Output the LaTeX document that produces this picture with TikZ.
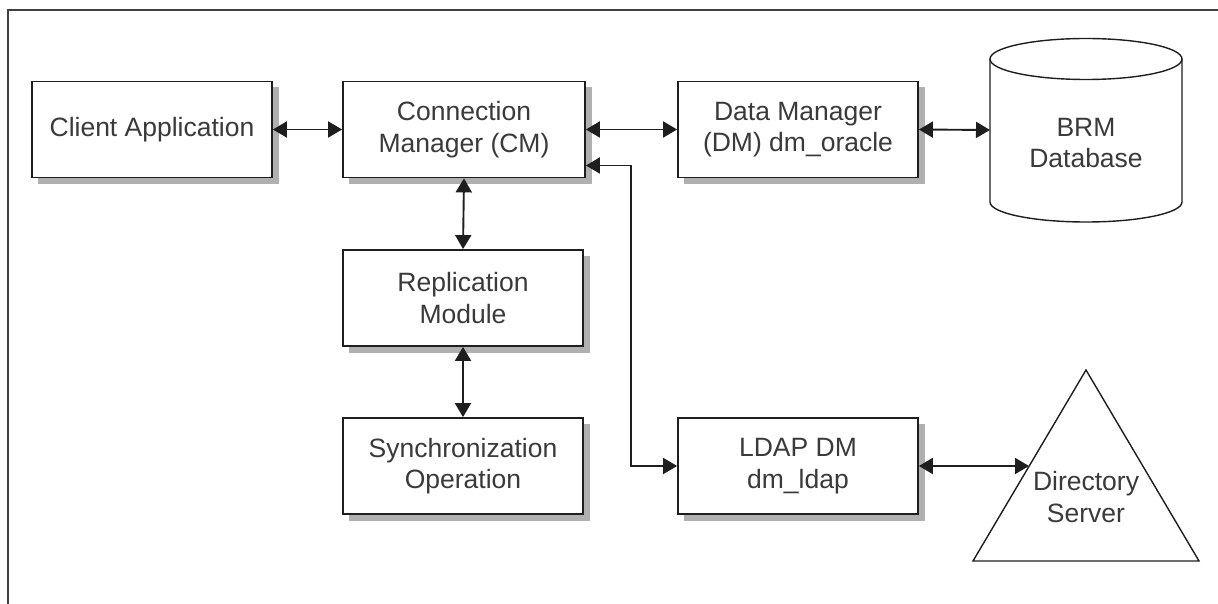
\documentclass[tikz,border=0pt]{standalone}
\usepackage{fontspec}
\setmainfont{Liberation Sans}
\usetikzlibrary{arrows.meta}
\definecolor{ln}{HTML}{1E1E1E}
\definecolor{tx}{HTML}{3A3A3A}
\definecolor{shd}{HTML}{B0B0B0}
\tikzset{
  blk/.style={draw=ln, line width=1.8pt, fill=white, minimum width=#1, minimum height=96pt,
    inner sep=0pt, align=center, text=tx, font=\fontsize{26.5}{31.5}\selectfont},
  blk/.default=240pt,
  conn/.style={draw=ln, line width=1.9pt, arrows={Triangle[length=14pt,width=16pt]-Triangle[length=14pt,width=16pt]}},
  lbl/.style={align=center, text=tx, font=\fontsize{26.5}{31.5}\selectfont, inner sep=0pt},
  outl/.style={draw=ln, line width=1.4pt},
  shadowbox/.style={fill=shd, draw=shd, line width=1pt}
}
\begin{document}
\begin{tikzpicture}[x=1pt,y=-1pt]
\useasboundingbox (0,0) rectangle (1218,604);
\draw[draw=black!75, line width=2pt] (8,10) rectangle (1240,640);

% shadows
\filldraw[shadowbox] (38.5,88) rectangle (278.5,184);
\filldraw[shadowbox] (349.5,88) rectangle (591.5,184);
\filldraw[shadowbox] (684.5,88) rectangle (924.5,184);
\filldraw[shadowbox] (349.5,256.5) rectangle (589.5,352.5);
\filldraw[shadowbox] (349.5,424.5) rectangle (589.5,520.5);
\filldraw[shadowbox] (684.5,424.5) rectangle (924.5,520.5);

\node[blk] (client) at (152,129.5) {Client Application};
\node[blk=242pt] (cm) at (464,129.5) {Connection\\Manager (CM)};
\node[blk] (dm) at (798,129.5) {Data Manager\\(DM) dm\_oracle};
\node[blk] (rep) at (463,298) {Replication\\Module};
\node[blk] (sync) at (463,466) {Synchronization\\Operation};
\node[blk] (ldap) at (798,466) {LDAP DM\\dm\_ldap};

% database cylinder
\draw[outl, fill=white] (990,59) -- (990,202) arc[start angle=180, end angle=360, x radius=96pt, y radius=20pt] -- (1182,59);
\draw[outl] (1086,59) ellipse[x radius=96pt, y radius=20.5pt];
\node[lbl] (db) at (1086,143) {BRM\\Database};
\coordinate (dbw) at (990,130);

% directory server triangle
\draw[outl, line join=miter] (1086,370) -- (1199,561) -- (973,561) -- cycle;
\node[lbl] (ds) at (1086,497) {Directory\\Server};
\coordinate (dsw) at (1029,466);

% connectors
\draw[conn] (client.east) -- (cm.west);
\draw[conn] (cm.east) -- (dm.west);
\draw[conn] (dm.east) -- (dbw);
\draw[conn] (cm.south) -- (rep.north);
\draw[conn] (rep.south) -- (sync.north);
\draw[conn] ([yshift=-36pt]cm.east) -| (631,466) -- (ldap.west);
\draw[conn] (ldap.east) -- (dsw);
\end{tikzpicture}
\end{document}
